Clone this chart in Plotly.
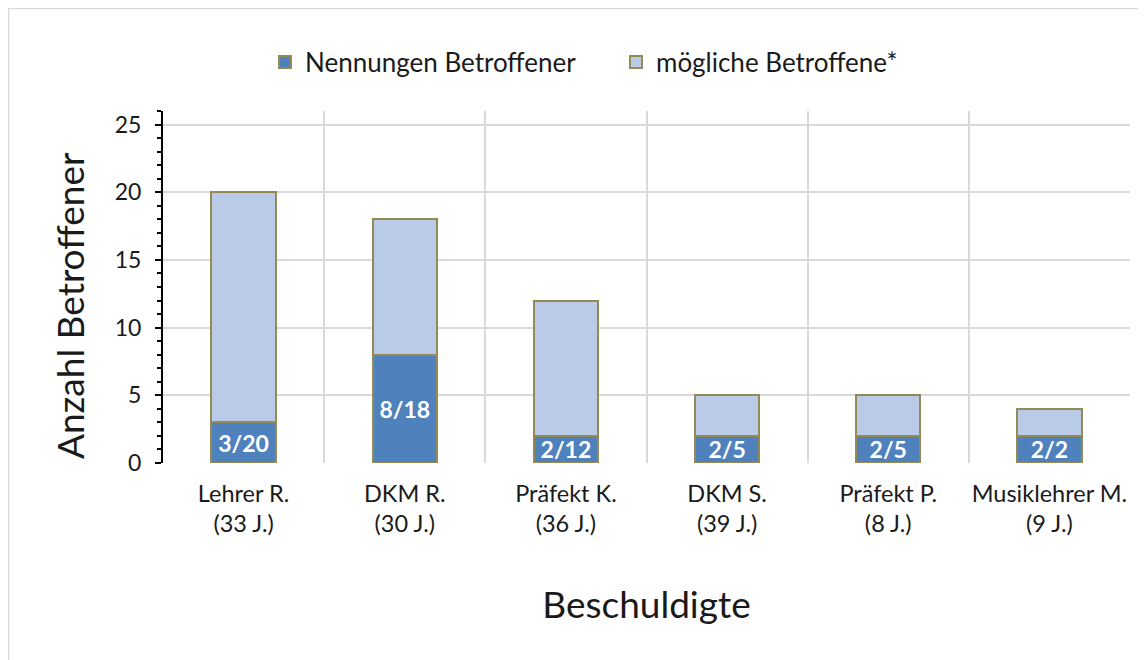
import plotly.graph_objects as go

categories = ["Lehrer R.<br>(33 J.)", "DKM R.<br>(30 J.)", "Präfekt K.<br>(36 J.)",
              "DKM S.<br>(39 J.)", "Präfekt P.<br>(8 J.)", "Musiklehrer M.<br>(9 J.)"]
nennungen = [3, 8, 2, 2, 2, 2]
moegliche_total = [20, 18, 12, 5, 5, 4]
bar_labels = ["3/20", "8/18", "2/12", "2/5", "2/5", "2/2"]

moegliche_rest = [t - n for t, n in zip(moegliche_total, nennungen)]
xpos = list(range(len(categories)))

FONT = "Lato"
EDGE = "#948A54"
TXT = "#1a1a1a"

fig = go.Figure()
fig.add_trace(go.Bar(
    x=xpos, y=nennungen, name="Nennungen Betroffener",
    marker=dict(color="#4F81BD", line=dict(color=EDGE, width=2)),
    text=bar_labels, textposition="inside", insidetextanchor="middle",
    textangle=0, constraintext="none",
    textfont=dict(family=FONT, size=23, color="white", weight="bold"),
))
fig.add_trace(go.Bar(
    x=xpos, y=moegliche_rest, name="mögliche Betroffene*",
    marker=dict(color="#B9CBE7", line=dict(color=EDGE, width=2)),
))

# page body has an 8px offset; margins are in figure coordinates
W, H = 1146, 660
L, T = 155, 103
R = W - 1122
B = H - 455
pw, ph = W - L - R, H - T - B

fig.update_layout(
    barmode="stack", bargap=0.6,
    width=W, height=H,
    margin=dict(l=L, r=R, t=T, b=B, autoexpand=False),
    paper_bgcolor="white", plot_bgcolor="white",
    font=dict(family=FONT, color=TXT),
    legend=dict(orientation="h", xref="container", x=257 / W, xanchor="left",
                y=(455 - 54) / ph, yanchor="middle",
                entrywidth=306, entrywidthmode="pixels",
                font=dict(size=26, family=FONT, color=TXT), traceorder="normal"),
    showlegend=True,
)

fig.update_xaxes(
    range=[-0.5, len(categories) - 0.5],
    tickvals=xpos, ticktext=categories,
    tickfont=dict(size=23.5, family=FONT, color=TXT),
    showgrid=False, showline=False, ticks="", zeroline=False,
    ticklabelstandoff=14,
    minor=dict(tickvals=[i + 0.5 for i in xpos], showgrid=True, gridcolor="#d9d9d9", gridwidth=1.5, ticks=""),
    title=dict(text="Beschuldigte", font=dict(size=37, family=FONT, color=TXT), standoff=56),
)
fig.update_yaxes(
    range=[0, 26], tickvals=[0, 5, 10, 15, 20, 25],
    tickfont=dict(size=23, family=FONT, color=TXT),
    showgrid=True, gridcolor="#d9d9d9", gridwidth=1.5,
    showline=True, linecolor="black", linewidth=2,
    ticks="outside", ticklen=6, tickwidth=2, tickcolor="black",
    ticklabelstandoff=9,
    minor=dict(dtick=1, ticks="outside", ticklen=4, tickwidth=1.5, tickcolor="black", showgrid=False),
    zeroline=False,
)

# y-axis title (placed as in the reference, slightly below the plot centre)
fig.add_annotation(text="Anzahl Betroffener", xref="paper", yref="paper",
                   x=(61 - L) / pw, y=(455 - 298) / ph, xanchor="center", yanchor="middle",
                   textangle=-90, showarrow=False,
                   font=dict(size=37, family=FONT, color=TXT))

# outer chart border
fig.add_shape(type="rect", xref="paper", yref="paper",
              x0=(0.5 - L) / pw, x1=(1160 - L) / pw,
              y0=(455 - 680) / ph, y1=(455 - 0.5) / ph,
              line=dict(color="#d9d9d9", width=1.5), fillcolor="rgba(0,0,0,0)", layer="below")

fig.write_html("out.html")
